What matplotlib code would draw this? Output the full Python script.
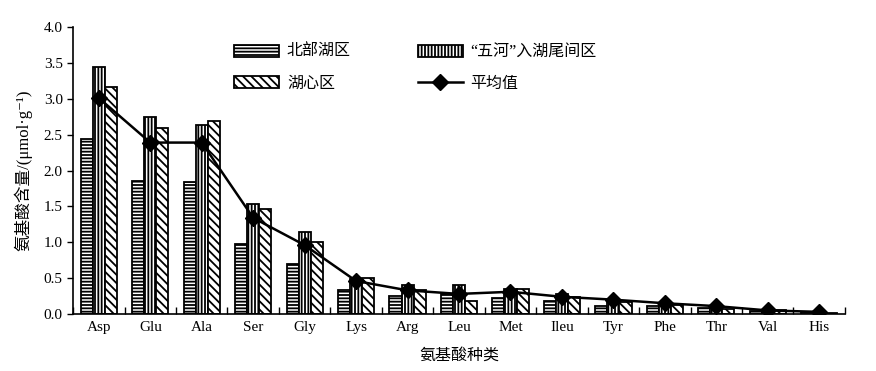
import matplotlib
matplotlib.use("Agg")
import matplotlib.pyplot as plt
import numpy as np

plt.rcParams['font.family'] = ['Liberation Serif', 'Noto Sans CJK SC', 'DejaVu Sans']
plt.rcParams['hatch.linewidth'] = 1.3

amino = ['Asp', 'Glu', 'Ala', 'Ser', 'Gly', 'Lys', 'Arg', 'Leu', 'Met', 'Ileu',
         'Tyr', 'Phe', 'Thr', 'Val', 'His']
north = [2.44, 1.86, 1.84, 0.97, 0.70, 0.33, 0.25, 0.28, 0.22, 0.18, 0.11, 0.11, 0.08, 0.04, 0.03]
wuhe = [3.44, 2.74, 2.64, 1.54, 1.15, 0.49, 0.40, 0.40, 0.35, 0.28, 0.18, 0.14, 0.10, 0.06, 0.03]
center = [3.16, 2.59, 2.69, 1.46, 1.00, 0.50, 0.33, 0.18, 0.35, 0.24, 0.17, 0.13, 0.07, 0.06, 0.02]
mean = [3.01, 2.39, 2.39, 1.34, 0.96, 0.46, 0.33, 0.28, 0.31, 0.24, 0.20, 0.15, 0.11, 0.05, 0.03]

fig = plt.figure(figsize=(8.76, 3.71), dpi=100)
ax = fig.add_axes([0.0835, 0.1536, 0.881, 0.7734])

x = np.arange(len(amino))
w = 0.235
b1 = ax.bar(x - w, north, w, color='white', edgecolor='black', hatch='-----', linewidth=1.3)
b2 = ax.bar(x, wuhe, w, color='white', edgecolor='black', hatch='|||||', linewidth=1.3)
b3 = ax.bar(x + w, center, w, color='white', edgecolor='black', hatch='\\\\\\\\', linewidth=1.3)
ln, = ax.plot(x, mean, color='black', linewidth=1.8, marker='D', markersize=8)

ax.set_xlim(-0.5, len(amino) - 0.5)
ax.set_ylim(0, 4.0)
ax.set_yticks(np.arange(0, 4.01, 0.5))
ax.set_yticklabels([f'{v:.1f}' for v in np.arange(0, 4.01, 0.5)], fontsize=11)
ax.set_xticks(x)
ax.set_xticklabels(amino, fontsize=11)
ax.tick_params(axis='x', length=0, pad=5)
ax.tick_params(axis='y', direction='out', length=4, width=1)
ax.set_xticks(np.arange(-0.5, len(amino)), minor=True)
ax.tick_params(axis='x', which='minor', direction='in', length=5, width=1)
for s in ['top', 'right']:
    ax.spines[s].set_visible(False)
for s in ['left', 'bottom']:
    ax.spines[s].set_linewidth(1.2)

ax.set_ylabel('氨基酸含量/(μmol·g⁻¹)', fontsize=12, labelpad=8)
ax.set_xlabel('氨基酸种类', fontsize=11.5, labelpad=10)

# column-major fill: col 1 = 北部湖区, 湖心区 ; col 2 = 五河, 平均值
ax.legend([b1, b3, b2, ln], ['北部湖区', '湖心区', '“五河”入湖尾间区', '平均值'], ncol=2,
          loc='upper left', bbox_to_anchor=(0.19, 0.99), frameon=False,
          fontsize=11.5, handlelength=2.8, handleheight=0.8, columnspacing=4.2,
          labelspacing=0.95, handletextpad=0.5)

fig.savefig('out.png', dpi=100)
